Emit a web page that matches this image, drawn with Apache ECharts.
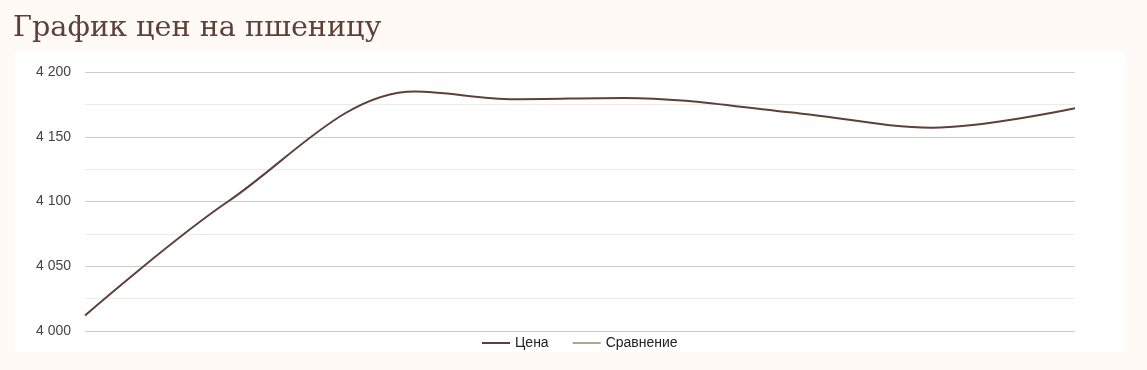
<!DOCTYPE html>
<html>
<head>
<meta charset="utf-8">
<script src="https://cdn.jsdelivr.net/npm/echarts@6/dist/echarts.min.js"></script>
<style>
html,body{margin:0;padding:0;background:#fffaf6;}
#c{width:1147px;height:370px;}
</style>
</head>
<body>
<div id="c"></div>
<script>
const titleText = 'График цен на пшеницу';
// observation day (offset from first point) and price
const days = [0, 13, 30, 39, 49, 65, 77, 90];
const priceValues = [4012, 4100, 4185, 4179, 4180, 4168, 4157, 4172];
const compareValues = [];
const seriesNames = ['Цена', 'Сравнение'];
const yMin = 4000, yMax = 4200, yStep = 50;

const priceData = days.map((d, i) => [d, priceValues[i]]);

const chart = echarts.init(document.getElementById('c'), null, {renderer: 'canvas'});
chart.setOption({
  backgroundColor: '#fffaf6',
  animation: false,
  title: {
    text: titleText,
    left: 8, top: 9,
    textStyle: {fontFamily: 'DejaVu Serif', fontSize: 28.7, fontWeight: 'normal', color: '#5d4037'}
  },
  graphic: [{
    type: 'rect', z: -10, silent: true,
    shape: {x: 15, y: 52, width: 1110, height: 300},
    style: {fill: '#ffffff'}
  }],
  legend: {
    bottom: 15, left: 477,
    icon: 'rect', itemWidth: 28, itemHeight: 2, itemGap: 24,
    textStyle: {fontFamily: 'Liberation Sans, Arial', fontSize: 14, color: '#222'},
    data: seriesNames
  },
  grid: {left: 85, right: 72, top: 72, bottom: 39},
  xAxis: {
    type: 'value', min: days[0], max: days[days.length - 1],
    axisLine: {show: false}, axisTick: {show: false}, axisLabel: {show: false},
    splitLine: {show: false}
  },
  yAxis: {
    type: 'value', min: yMin, max: yMax, interval: yStep,
    axisLine: {show: false}, axisTick: {show: false},
    axisLabel: {
      margin: 14, fontFamily: 'Liberation Sans, Arial', fontSize: 14, color: '#444',
      formatter: v => String(v).replace(/\B(?=(\d{3})+(?!\d))/g, ' ')
    },
    splitLine: {lineStyle: {color: '#cccccc', width: 1}},
    minorTick: {show: false, splitNumber: 2},
    minorSplitLine: {show: true, lineStyle: {color: '#ebebeb', width: 1}}
  },
  series: [
    {name: seriesNames[0], type: 'line', data: priceData, smooth: 0.35, showSymbol: false,
     lineStyle: {color: '#5d4037', width: 2}, itemStyle: {color: '#5d4037'}},
    {name: seriesNames[1], type: 'line', data: compareValues, smooth: 0.35, showSymbol: false,
     lineStyle: {color: '#a8aa90', width: 2}, itemStyle: {color: '#a8aa90'}}
  ]
});
</script>
</body>
</html>
